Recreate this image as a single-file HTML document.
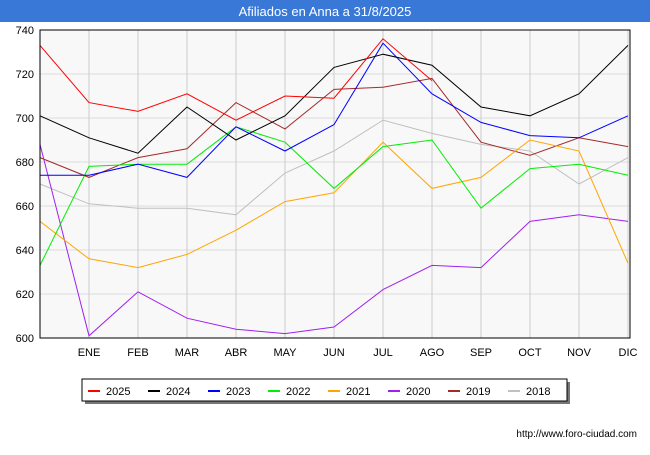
<!DOCTYPE html>
<html><head><meta charset="utf-8"><style>
body{margin:0;width:650px;height:450px;background:#fff;font-family:"Liberation Sans",sans-serif;overflow:hidden}
</style></head><body>
<svg width="650" height="450" id="svg">
<rect x="0" y="0" width="650" height="22" fill="#3a78d8"/>
<text x="325" y="16" text-anchor="middle" fill="#fff" font-size="13">Afiliados en Anna a 31/8/2025</text>
<rect x="40" y="30" width="590" height="308" fill="#f8f8f8"/>
<g id="grid"></g><g id="series"></g>
<rect x="40" y="30" width="590" height="308" fill="none" stroke="#000"/>
<text x="637" y="437" text-anchor="end" font-size="10" fill="#000">http://www.foro-ciudad.com</text>
<rect x="85" y="382" width="485" height="22" fill="#777"/>
<rect x="82" y="379" width="485" height="22" fill="#fff" stroke="#000"/>
<g id="legend"></g>
</svg>
<script>
const months=["","ENE","FEB","MAR","ABR","MAY","JUN","JUL","AGO","SEP","OCT","NOV","DIC"];
const yTicks=[600,620,640,660,680,700,720,740];
const years=["2025","2024","2023","2022","2021","2020","2019","2018"];
const colors=["#ff0000","#000000","#0000ff","#00ee00","#ffa500","#a020f0","#a52a2a","#c0c0c0"];
const s2025=[733,707,703,711,699,710,709,736,717];
const s2024=[701,691,684,705,690,701,723,729,724,705,701,711,733];
const s2023=[674,674,679,673,696,685,697,734,711,698,692,691,701];
const s2022=[633,678,679,679,696,689,668,687,690,659,677,679,674];
const s2021=[653,636,632,638,649,662,666,689,668,673,690,685,634];
const s2020=[688,601,621,609,604,602,605,622,633,632,653,656,653];
const s2019=[682,673,682,686,707,695,713,714,718,689,683,691,687];
const s2018=[670,661,659,659,656,675,685,699,693,688,685,670,682];
const allSeries=[s2025,s2024,s2023,s2022,s2021,s2020,s2019,s2018];
const NS="http://www.w3.org/2000/svg";
const X=i=>40+i*49;
const Y=v=>338-(v-600)*(308/140);
function mk(tag,attrs,parent){const e=document.createElementNS(NS,tag);for(const k in attrs)e.setAttribute(k,attrs[k]);parent.appendChild(e);return e;}
const grid=document.getElementById('grid');
yTicks.forEach(t=>{
  const l=mk('line',{x1:40,x2:630,y1:Y(t),y2:Y(t),stroke:'#dddddd'},grid);
  
  
  const tx=mk('text',{x:34,y:Y(t)+4,'text-anchor':'end','font-size':11},grid);
  tx.textContent=t;
  
  
});
months.forEach((m,i)=>{
  if(i===0)return;
  const l=mk('line',{x1:X(i),x2:X(i),y1:30,y2:338,stroke:'#cccccc'},grid);
  
  
  const tx=mk('text',{x:X(i),y:356,'text-anchor':'middle','font-size':11},grid);
  tx.textContent=m;
  
  
});
const sg=document.getElementById('series');
for(let k=allSeries.length-1;k>=0;k--){
  const pts=allSeries[k].map((v,i)=>X(i)+','+Y(v)).join(' ');
  const p=mk('polyline',{points:pts,fill:'none',stroke:colors[k],'stroke-width':1},sg);
  
  
}
const lg=document.getElementById('legend');
years.forEach((y,i)=>{
  const x0=88+i*60;
  const l=mk('line',{x1:x0,x2:x0+12,y1:391,y2:391,stroke:colors[i],'stroke-width':2},lg);
  
  
  const t=mk('text',{x:x0+18,y:395,'font-size':11},lg);
  t.textContent=y;
  
  
});
</script>
</body></html>
